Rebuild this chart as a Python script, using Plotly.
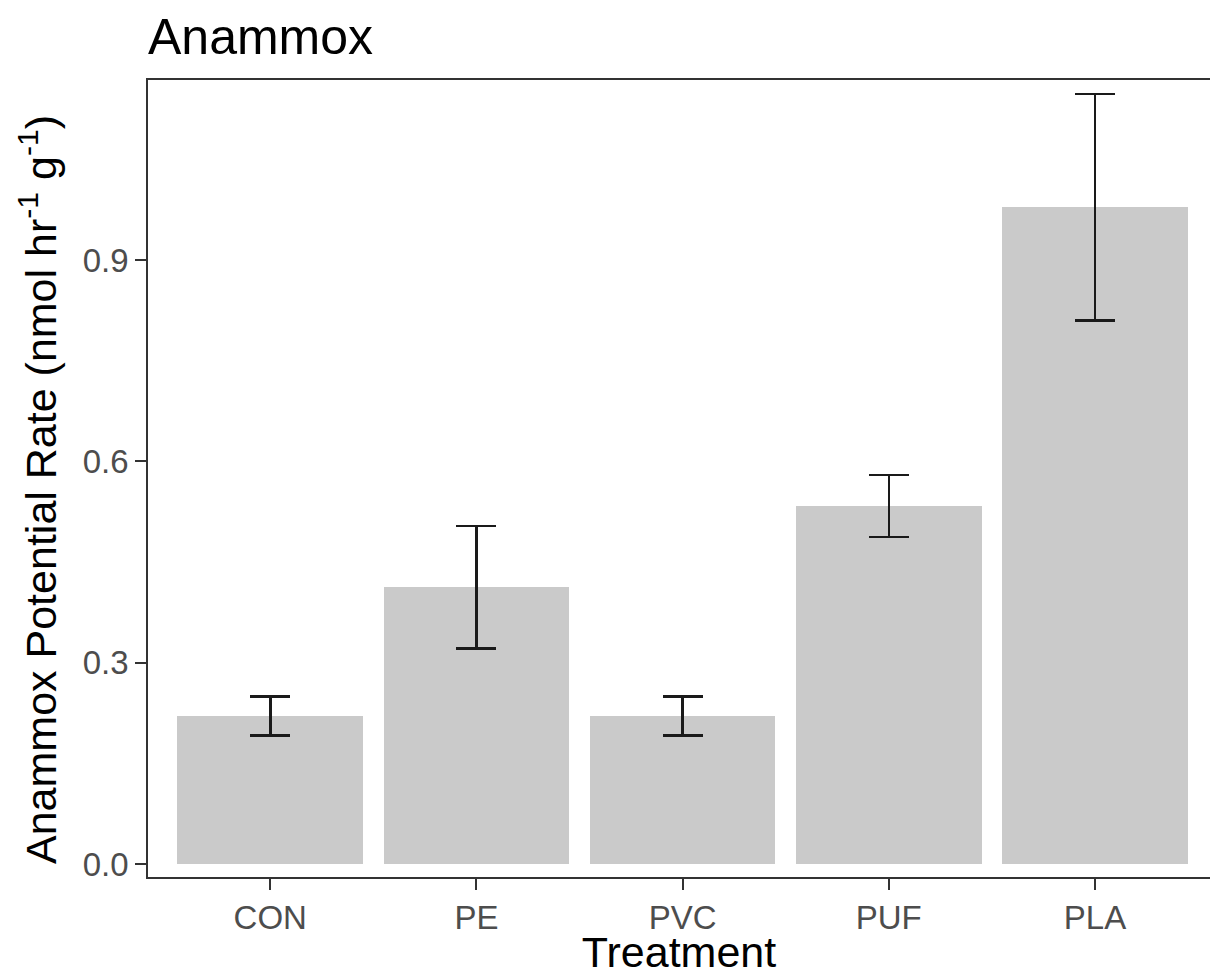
import plotly.graph_objects as go

treatments = ["CON", "PE", "PVC", "PUF", "PLA"]
mean_rate = [0.2206, 0.4124, 0.2206, 0.5335, 0.9787]
se_rate = [0.029, 0.091, 0.029, 0.046, 0.169]

FONT = "Liberation Sans, Arial, Helvetica, sans-serif"
LINE = "#333333"

fig = go.Figure()
fig.add_trace(go.Bar(
    x=treatments,
    y=mean_rate,
    width=0.9,
    marker=dict(color="#CACACA", line=dict(width=0)),
    error_y=dict(type="data", array=se_rate, visible=True,
                 color="#1a1a1a", thickness=2.5, width=20),
    showlegend=False,
))

fig.update_layout(
    width=1210, height=976,
    margin=dict(l=148, r=0, t=80, b=99, autoexpand=False),
    paper_bgcolor="white", plot_bgcolor="white",
    font=dict(family=FONT, color="black"),
    title=dict(text="Anammox", font=dict(size=50, color="black", family=FONT),
               x=148/1210, xanchor="left", xref="container",
               y=1 - 36/976, yanchor="middle", yref="container"),
    bargap=0,
)

fig.update_xaxes(
    type="category", range=[-0.593, 4.558],
    showline=True, linecolor=LINE, linewidth=1.6, mirror=True,
    ticks="outside", ticklen=11, tickwidth=1.6, tickcolor=LINE,
    tickfont=dict(size=33, color="#4D4D4D", family=FONT),
    showgrid=False, zeroline=False, automargin=False,
    title=dict(text="Treatment", font=dict(size=43, color="black", family=FONT), standoff=4),
)
fig.update_yaxes(
    range=[-0.0194, 1.1684],
    tickvals=[0.0, 0.3, 0.6, 0.9], ticktext=["0.0", "0.3", "0.6", "0.9"],
    showline=True, linecolor=LINE, linewidth=1.6, mirror=False,
    ticks="outside", ticklen=11, tickwidth=1.6, tickcolor=LINE,
    tickfont=dict(size=33, color="#4D4D4D", family=FONT),
    showgrid=False, zeroline=False, automargin=False,
)

fig.add_annotation(
    text="Anammox Potential Rate (nmol hr<sup>-1</sup> g<sup>-1</sup>)",
    textangle=-90, showarrow=False,
    xref="paper", yref="paper",
    x=(38 - 148) / 1062, y=(877 - 490) / 797,
    xanchor="center", yanchor="middle",
    font=dict(size=43, color="black", family=FONT),
)

fig.write_html("out.html")
